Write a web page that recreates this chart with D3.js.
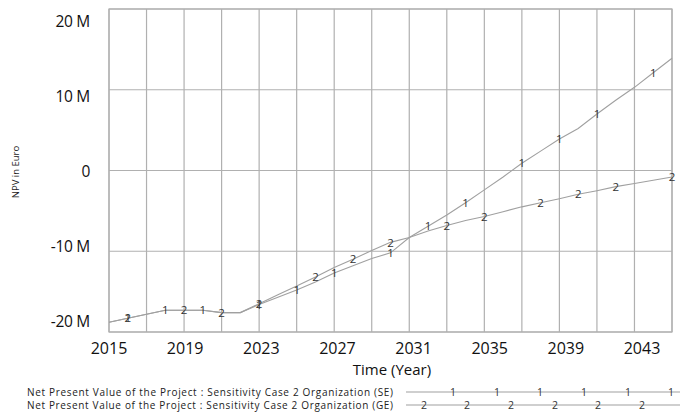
<!DOCTYPE html>
<html><head><meta charset="utf-8">
<script src="https://cdn.jsdelivr.net/npm/d3@7"></script>
<style>
body{margin:0;background:#fff;}
svg{display:block;font-family:"Open Sans",sans-serif;}
</style></head>
<body><svg id="chart" width="680" height="412"></svg>
<script>
const years = d3.range(2015, 2046);
const seValues = [-18.8,-18.3,-17.8,-17.3,-17.3,-17.3,-17.6,-17.6,-16.6,-15.7,-14.8,-13.8,-12.7,-11.8,-10.9,-10.2,-8.3,-6.9,-5.5,-4.0,-2.4,-0.8,0.9,2.4,3.9,5.2,7.0,8.7,10.3,12.1,13.9];
const geValues = [-18.8,-18.3,-17.8,-17.3,-17.3,-17.3,-17.6,-17.6,-16.5,-15.4,-14.3,-13.2,-12.0,-11.0,-9.9,-8.9,-8.3,-7.5,-6.8,-6.2,-5.7,-5.1,-4.5,-4.0,-3.5,-2.95,-2.5,-2.0,-1.6,-1.2,-0.8];
const seMarkerYears = [2016,2018,2020,2023,2025,2027,2030,2032,2034,2037,2039,2041,2044];
const geMarkerYears = [2016,2019,2021,2023,2026,2028,2030,2033,2035,2038,2040,2042,2045];
const yTicks = [20,10,0,-10,-20];
const yTickLabels = ["20 M","10 M","0","-10 M","-20 M"];
const xTicks = [2015,2019,2023,2027,2031,2035,2039,2043];
const gridYears = d3.range(2015, 2046, 2);
const seriesNames = ["Net Present Value of the Project : Sensitivity Case 2 Organization (SE)",
                     "Net Present Value of the Project : Sensitivity Case 2 Organization (GE)"];

const svg = d3.select("#chart");
const L = 109, R = 672, T = 9, B = 332;
const x = d3.scaleLinear().domain([2015, 2045]).range([L, R]);
const y = d3.scaleLinear().domain([-20, 20]).range([B, T]);
// label placement scales (labels sit slightly inside the gridline positions)
const xl = d3.scaleLinear().domain([2015, 2043]).range([109, 642]);
const yl = d3.scaleLinear().domain([-20, 20]).range([322, 22]);

const gridColor = "#b0b0b0";
// grid
svg.append("g").selectAll("line").data(gridYears).join("line")
  .attr("x1", d => x(d)).attr("x2", d => x(d)).attr("y1", T).attr("y2", B)
  .attr("stroke", gridColor).attr("stroke-width", 1.2);
svg.append("g").selectAll("line").data([20,10,0,-10,-20]).join("line")
  .attr("x1", L).attr("x2", R).attr("y1", d => y(d)).attr("y2", d => y(d))
  .attr("stroke", gridColor).attr("stroke-width", 1.2);
svg.append("rect").attr("x", L).attr("y", T).attr("width", R - L).attr("height", B - T)
  .attr("fill", "none").attr("stroke", gridColor).attr("stroke-width", 1.2);

// y tick labels
svg.append("g").selectAll("text").data(yTicks).join("text")
  .attr("x", 90).attr("y", d => yl(d)).attr("dy", "0.35em")
  .attr("text-anchor", "end").attr("font-size", 15.5).attr("fill", "#111")
  .attr("font-weight", 500).attr("letter-spacing", "-0.3")
  .text((d, i) => yTickLabels[i]);
// x tick labels
svg.append("g").selectAll("text").data(xTicks).join("text")
  .attr("x", d => xl(d)).attr("y", 348).attr("dy", "0.35em")
  .attr("text-anchor", "middle").attr("font-size", 16).attr("fill", "#111")
  .attr("font-weight", 500)
  .text(d => d);
// axis titles
svg.append("text").attr("x", 392).attr("y", 370).attr("dy", "0.35em")
  .attr("text-anchor", "middle").attr("font-size", 15).attr("fill", "#111")
  .attr("font-weight", 500).text("Time (Year)");
svg.append("text").attr("transform", "translate(16,172) rotate(-90)").attr("dy", "0.35em")
  .attr("text-anchor", "middle").attr("font-size", 9.5).attr("fill", "#222").text("NPV in Euro");

// lines
const series = [
  {vals: seValues, markers: seMarkerYears, label: "1"},
  {vals: geValues, markers: geMarkerYears, label: "2"}
];
const line = d3.line().x((d, i) => x(years[i])).y(d => y(d));
series.forEach(s => {
  svg.append("path").datum(s.vals).attr("d", line)
    .attr("fill", "none").attr("stroke", "#a0a0a0").attr("stroke-width", 1.1);
});
const interp = (vals, yr) => {
  const i = Math.min(Math.floor(yr - 2015), vals.length - 2);
  const t = yr - 2015 - i;
  return vals[i] + (vals[i + 1] - vals[i]) * t;
};
series.forEach(s => {
  svg.append("g").selectAll("text").data(s.markers).join("text")
    .attr("x", d => x(d)).attr("y", d => y(interp(s.vals, d))).attr("dy", "0.36em")
    .attr("text-anchor", "middle").attr("font-size", 11.5).attr("fill", "#333")
    .text(s.label);
});

// legend
const legY = [392, 405];
const legMarkX = [[453,497,540,584,628,671],[424,467,511,555,598,642]];
seriesNames.forEach((name, i) => {
  svg.append("text").attr("x", 27).attr("y", legY[i]).attr("dy", "0.35em")
    .attr("font-size", 10).attr("fill", "#222").attr("textLength", 366).text(name);
  svg.append("line").attr("x1", 406).attr("x2", 680).attr("y1", legY[i]).attr("y2", legY[i])
    .attr("stroke", "#a0a0a0").attr("stroke-width", 1.1);
  svg.append("g").selectAll("text").data(legMarkX[i]).join("text")
    .attr("x", d => d).attr("y", legY[i]).attr("dy", "0.34em")
    .attr("text-anchor", "middle").attr("font-size", 10.5).attr("fill", "#333")
    .text(series[i].label);
});
</script></body></html>
